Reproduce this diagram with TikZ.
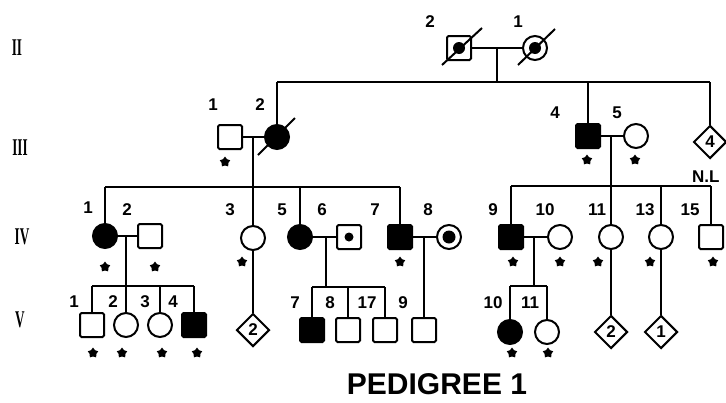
\documentclass[tikz,border=0pt]{standalone}
\usepackage{fontspec}
\setmainfont{Liberation Sans}
\newfontfamily\serifrow{Liberation Serif}
\usetikzlibrary{shapes.geometric}
\begin{document}
\begin{tikzpicture}[x=1pt,y=-1pt,
  ln/.style={line width=2pt},
  sq/.style={draw, line width=2pt, minimum size=24pt, inner sep=0pt, rounded corners=1.5pt},
  ci/.style={draw, circle, line width=2pt, minimum size=24pt, inner sep=0pt},
  af/.style={fill=black},
  dm/.style={draw, diamond, line width=2pt, minimum size=33pt, inner sep=0pt, font=\bfseries\fontsize{17}{17}\selectfont},
  lab/.style={font=\bfseries\fontsize{17}{17}\selectfont, inner sep=0pt},
  st/.style={star, star points=5, star point ratio=1.6, fill=black, minimum size=11pt, inner sep=0pt},
  rowlab/.style={font=\serifrow\bfseries\fontsize{24}{24}\selectfont, inner sep=0pt}]
\useasboundingbox (0,0) rectangle (726,402);

% row labels
\node[rowlab] (rII) at (17,48) {\scalebox{0.55}[1]{II}};
\node[rowlab] (rIII) at (20,148) {\scalebox{0.55}[1]{III}};
\node[rowlab] (rIV) at (22,237) {\scalebox{0.55}[1]{IV}};
\node[rowlab] (rV) at (20,320) {\scalebox{0.55}[1]{V}};

% generation II
\node[sq] (II2) at (459,48) {};
\node[ci] (II1) at (535,48) {};
\fill (II2.center) circle (6);
\fill (II1.center) circle (6);
\draw[ln] ([shift={(-17,17)}]II2.center) -- ([shift={(23,-20)}]II2.center);
\draw[ln] ([shift={(-17,17)}]II1.center) -- ([shift={(20,-19)}]II1.center);
\node[lab] (lII2) at (430,22) {2};
\node[lab] (lII1) at (518,22) {1};
\draw[ln] (II2) -- (II1);
\coordinate (mII) at (497,48);
\coordinate (sA) at (277,82);
\coordinate (sB) at (588,82);
\coordinate (sC) at (710,82);
\coordinate (sM) at (497,82);
\draw[ln] (mII) -- (sM);
\draw[ln] (sA) -- (sC);

% generation III
\node[sq] (III1) at (230,137) {};
\node[ci, af] (III2) at (277,137) {};
\draw[ln] (258,155) -- (295,118);
\node[sq, af] (III4) at (588,136) {};
\node[ci] (III5) at (636,136) {};
\node[dm] (III4d) at (710,142) {4};
\node[font=\bfseries\fontsize{17}{17}\selectfont, inner sep=0pt, anchor=west] (NL) at (692,177) {N.L};
\draw[ln] (sA) -- (III2);
\draw[ln] (sB) -- (III4);
\draw[ln] (sC) -- (III4d);
\draw[ln] (III1) -- (III2);
\draw[ln] (III4) -- (III5);
\node[lab] (lIII1) at (213,105) {1};
\node[lab] (lIII2) at (260,105) {2};
\node[lab] (lIII4) at (555,113) {4};
\node[lab] (lIII5) at (617,113) {5};
\node[st] (sIII1) at (225,162) {};
\node[st] (sIII4) at (587,160) {};
\node[st] (sIII5) at (635,160) {};

% sibship IV left
\coordinate (mIIIa) at (253,137);
\coordinate (a1) at (105,187);
\coordinate (a3) at (253,187);
\coordinate (a5) at (300,187);
\coordinate (a7) at (400,187);
\draw[ln] (mIIIa) -- (a3);
\draw[ln] (a1) -- (a7);
% sibship IV right
\coordinate (mIIIb) at (611,136);
\coordinate (b9) at (511,186);
\coordinate (b11) at (611,186);
\coordinate (b13) at (661,186);
\coordinate (b15) at (711,186);
\draw[ln] (mIIIb) -- (b11);
\draw[ln] (b9) -- (b15);

% generation IV
\node[ci, af] (IV1) at (105,236) {};
\node[sq] (IV2) at (150,236) {};
\node[ci] (IV3) at (253,238) {};
\node[ci, af] (IV5) at (300,237) {};
\node[sq] (IV6) at (349,237) {};
\fill (IV6.center) circle (4.5);
\node[sq, af] (IV7) at (400,237) {};
\node[ci] (IV8) at (449,237) {};
\fill (IV8.center) circle (6.5);
\node[sq, af] (IV9) at (511,237) {};
\node[ci] (IV10) at (560,237) {};
\node[ci] (IV11) at (611,237) {};
\node[ci] (IV13) at (661,237) {};
\node[sq] (IV15) at (711,237) {};
\draw[ln] (a1) -- (IV1);
\draw[ln] (a3) -- (IV3);
\draw[ln] (a5) -- (IV5);
\draw[ln] (a7) -- (IV7);
\draw[ln] (b9) -- (IV9);
\draw[ln] (b11) -- (IV11);
\draw[ln] (b13) -- (IV13);
\draw[ln] (b15) -- (IV15);
\draw[ln] (IV1) -- (IV2);
\draw[ln] (IV5) -- (IV6);
\draw[ln] (IV7) -- (IV8);
\draw[ln] (IV9) -- (IV10);
\node[lab] (lIV1) at (88,208) {1};
\node[lab] (lIV2) at (127,210) {2};
\node[lab] (lIV3) at (230,210) {3};
\node[lab] (lIV5) at (282,210) {5};
\node[lab] (lIV6) at (322,210) {6};
\node[lab] (lIV7) at (375,210) {7};
\node[lab] (lIV8) at (428,210) {8};
\node[lab] (lIV9) at (493,210) {9};
\node[lab] (lIV10) at (545,210) {10};
\node[lab] (lIV11) at (597,210) {11};
\node[lab] (lIV13) at (645,210) {13};
\node[lab] (lIV15) at (690,210) {15};
\node[st] (sIV1) at (105,267) {};
\node[st] (sIV2) at (155,267) {};
\node[st] (sIV3) at (242,262) {};
\node[st] (sIV7) at (400,262) {};
\node[st] (sIV9) at (513,262) {};
\node[st] (sIV10) at (560,262) {};
\node[st] (sIV11) at (598,262) {};
\node[st] (sIV13) at (650,262) {};
\node[st] (sIV15) at (713,262) {};

% generation V
\coordinate (mIVa) at (126,236);
\coordinate (c1) at (92,286);
\coordinate (c2) at (126,286);
\coordinate (c3) at (160,286);
\coordinate (c4) at (194,286);
\draw[ln] (mIVa) -- (c2);
\draw[ln] (c1) -- (c4);
\node[sq] (V1) at (92,325) {};
\node[ci] (V2) at (126,325) {};
\node[ci] (V3) at (160,325) {};
\node[sq, af] (V4) at (194,325) {};
\draw[ln] (c1) -- (V1);
\draw[ln] (c2) -- (V2);
\draw[ln] (c3) -- (V3);
\draw[ln] (c4) -- (V4);

\node[dm] (D1) at (253,330) {2};
\draw[ln] (IV3) -- (D1);

\coordinate (mIVb) at (326,237);
\coordinate (d7) at (312,287);
\coordinate (d8) at (348,287);
\coordinate (d17) at (385,287);
\coordinate (dm2) at (326,287);
\draw[ln] (mIVb) -- (dm2);
\draw[ln] (d7) -- (d17);
\node[sq, af] (V7) at (312,330) {};
\node[sq] (V8) at (348,330) {};
\node[sq] (V17) at (385,330) {};
\node[sq] (V9) at (424,330) {};
\draw[ln] (d7) -- (V7);
\draw[ln] (d8) -- (V8);
\draw[ln] (d17) -- (V17);
\coordinate (mIVc) at (424,237);
\draw[ln] (mIVc) -- (V9);

\coordinate (mIVd) at (534,237);
\coordinate (e10) at (510,286);
\coordinate (e11) at (547,286);
\coordinate (em) at (534,286);
\draw[ln] (mIVd) -- (em);
\draw[ln] (e10) -- (e11);
\node[ci, af] (V10) at (510,332) {};
\node[ci] (V11) at (547,332) {};
\draw[ln] (e10) -- (V10);
\draw[ln] (e11) -- (V11);

\node[dm] (D2) at (611,332) {2};
\node[dm] (D3) at (661,332) {1};
\draw[ln] (IV11) -- (D2);
\draw[ln] (IV13) -- (D3);

\node[lab] (lV1) at (74,302) {1};
\node[lab] (lV2) at (113,302) {2};
\node[lab] (lV3) at (145,302) {3};
\node[lab] (lV4) at (173,302) {4};
\node[lab] (lV7) at (295,303) {7};
\node[lab] (lV8) at (330,303) {8};
\node[lab] (lV17) at (367,303) {17};
\node[lab] (lV9) at (403,303) {9};
\node[lab] (lV10) at (493,303) {10};
\node[lab] (lV11) at (530,303) {11};
\node[st] (sV1) at (93,353) {};
\node[st] (sV2) at (122,353) {};
\node[st] (sV3) at (162,353) {};
\node[st] (sV4) at (197,353) {};
\node[st] (sV10) at (512,353) {};
\node[st] (sV11) at (548,353) {};

\node[font=\bfseries\fontsize{30}{30}\selectfont, inner sep=0pt] (title) at (437,384) {PEDIGREE 1};
\end{tikzpicture}
\end{document}
